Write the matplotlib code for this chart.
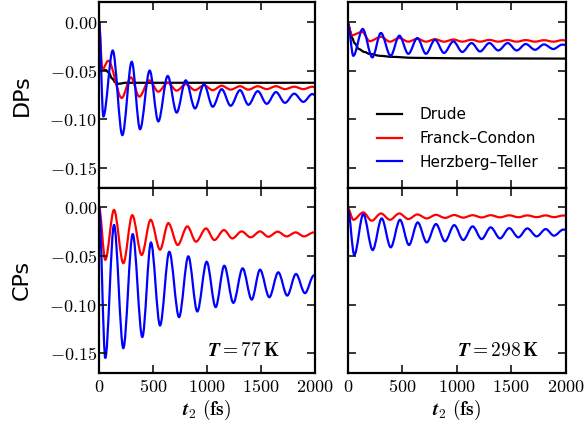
import matplotlib
matplotlib.use("Agg")
import matplotlib.pyplot as plt
from matplotlib.path import Path
from matplotlib.patches import PathPatch
from matplotlib.lines import Line2D
from matplotlib.ticker import FuncFormatter, MultipleLocator

plt.rcParams["mathtext.fontset"] = "cm"

# ---- data (times in fs, extrema of each trace) ----
# DPs, T = 77 K
t_dp77_drude = [0, 8, 15, 30, 60, 90, 120, 150, 180, 250, 2000]
v_dp77_drude = [0, -0.03, -0.046, -0.049, -0.0495, -0.052, -0.058, -0.062, -0.0635, -0.0625, -0.0625]

t_dp77_fc = [0, 31, 86, 210, 296, 373, 466, 549, 636, 719, 803, 889, 972, 1053,
             1136, 1219, 1306, 1383, 1470, 1553, 1639, 1722, 1808, 1892, 1975, 2000]
v_dp77_fc = [0, -0.0486, -0.040, -0.078, -0.057, -0.0767, -0.060, -0.0716, -0.0623, -0.0705,
             -0.064, -0.070, -0.065, -0.070, -0.0655, -0.0695, -0.066, -0.0695, -0.066, -0.069,
             -0.066, -0.069, -0.0665, -0.069, -0.0665, -0.067]

t_dp77_ht = [0, 40, 127, 216, 303, 380, 469, 549, 636, 719, 803, 889, 972, 1053,
             1136, 1219, 1306, 1383, 1470, 1553, 1639, 1722, 1808, 1892, 1975, 2000]
v_dp77_ht = [0, -0.097, -0.0295, -0.116, -0.041, -0.110, -0.050, -0.102, -0.0555, -0.093,
             -0.060, -0.0887, -0.064, -0.087, -0.069, -0.086, -0.070, -0.085, -0.071, -0.084,
             -0.072, -0.083, -0.0736, -0.082, -0.074, -0.075]

# DPs, T = 298 K
t_dp298_drude = [0, 10, 20, 40, 60, 100, 150, 200, 300, 400, 600, 1000, 2000]
v_dp298_drude = [-0.002, -0.006, -0.010, -0.017, -0.022, -0.028, -0.031, -0.033, -0.035,
                 -0.036, -0.037, -0.0375, -0.0378]

t_dp298_fc = [0, 34, 130, 200, 303, 385, 472, 555, 638, 717, 800, 883, 969, 1051,
              1137, 1214, 1300, 1382, 1468, 1551, 1634, 1720, 1802, 1888, 1970, 2000]
v_dp298_fc = [-0.002, -0.014, -0.0105, -0.020, -0.0155, -0.0205, -0.0168, -0.0205, -0.0175,
              -0.0205, -0.018, -0.0205, -0.0183, -0.0205, -0.0185, -0.0205, -0.0187, -0.0205,
              -0.0188, -0.0205, -0.0189, -0.0205, -0.019, -0.0205, -0.019, -0.0192]

t_dp298_ht = [0, 49, 135, 224, 303, 392, 472, 555, 638, 717, 800, 883, 969, 1051,
              1137, 1214, 1300, 1382, 1468, 1551, 1634, 1720, 1802, 1888, 1970, 2000]
v_dp298_ht = [-0.002, -0.035, -0.0075, -0.0366, -0.0116, -0.035, -0.0144, -0.033, -0.0168,
              -0.0329, -0.0185, -0.032, -0.0202, -0.031, -0.0219, -0.0305, -0.0219, -0.0295,
              -0.0219, -0.0295, -0.0229, -0.0288, -0.0233, -0.028, -0.0235, -0.0238]

# CPs, T = 77 K
t_cp77_fc = [0, 58, 139, 225, 308, 395, 478, 565, 642, 729, 818, 898, 991, 1068,
             1157, 1234, 1321, 1404, 1491, 1568, 1654, 1738, 1821, 1898, 1990, 2000]
v_cp77_fc = [0, -0.054, -0.0025, -0.0575, -0.0079, -0.049, -0.0127, -0.0435, -0.0161, -0.0387,
             -0.0195, -0.0353, -0.0216, -0.0336, -0.0233, -0.0319, -0.0247, -0.0308, -0.0247,
             -0.0302, -0.025, -0.0298, -0.0257, -0.0298, -0.0257, -0.0258]

t_cp77_ht = [0, 58, 139, 225, 312, 401, 481, 565, 651, 741, 827, 910, 997, 1080,
             1160, 1244, 1330, 1414, 1491, 1577, 1660, 1743, 1824, 1907, 1990, 2000]
v_cp77_ht = [0, -0.155, -0.018, -0.145, -0.0274, -0.1335, -0.036, -0.1216, -0.0456, -0.113,
             -0.0503, -0.1072, -0.0559, -0.1027, -0.060, -0.0983, -0.0627, -0.0949, -0.0641,
             -0.0925, -0.0668, -0.0908, -0.0685, -0.0883, -0.070, -0.0702]

# CPs, T = 298 K
t_cp298_fc = [0, 49, 141, 218, 303, 386, 472, 555, 638, 724, 809, 892, 977, 1060,
              1146, 1229, 1312, 1398, 1483, 1566, 1649, 1735, 1818, 1894, 1980, 2000]
v_cp298_fc = [-0.001, -0.0127, -0.0051, -0.0137, -0.0062, -0.0127, -0.0062, -0.012, -0.0072,
              -0.0113, -0.0076, -0.0108, -0.0078, -0.0105, -0.008, -0.0103, -0.008, -0.0102,
              -0.0081, -0.0101, -0.0082, -0.010, -0.0082, -0.010, -0.0083, -0.0085]

t_cp298_ht = [0, 58, 141, 227, 310, 393, 478, 561, 641, 724, 809, 892, 977, 1060,
              1146, 1229, 1312, 1398, 1483, 1566, 1649, 1735, 1818, 1894, 1980, 2000]
v_cp298_ht = [-0.002, -0.049, -0.0069, -0.0439, -0.0113, -0.0411, -0.0127, -0.0387, -0.0154,
              -0.036, -0.0171, -0.0349, -0.0182, -0.0336, -0.0195, -0.0326, -0.0205, -0.0319,
              -0.0213, -0.0308, -0.0216, -0.0298, -0.0223, -0.0291, -0.0228, -0.023]

series_names = ["Drude", "Franck\u2013Condon", "Herzberg\u2013Teller"]
series_colors = ["k", "r", "b"]
temperatures = ["77", "298"]
row_labels = ["DPs", "CPs"]


def smooth_path(t, v):
    # cubic segments between neighbouring extrema, flat at each extremum
    verts = [(t[0], v[0])]
    codes = [Path.MOVETO]
    for i in range(len(t) - 1):
        d = (t[i + 1] - t[i]) / 3.0
        verts += [(t[i] + d, v[i]), (t[i + 1] - d, v[i + 1]), (t[i + 1], v[i + 1])]
        codes += [Path.CURVE4] * 3
    return Path(verts, codes)


def draw_trace(ax, t, v, color):
    ax.add_patch(PathPatch(smooth_path(t, v), fill=False, edgecolor=color, lw=1.6,
                           capstyle="round", joinstyle="round"))


def bold_tick(val, pos, fmt):
    s = fmt.format(val)
    if s.startswith("-") and float(s) == 0:
        s = s[1:]
    return r"$\mathbf{" + s + "}$"


fig = plt.figure(figsize=(5.87, 4.21), dpi=100)
lefts = [0.1687, 0.5928]
width_l, width_r = 0.3679, 0.3706
bottoms = [0.5534, 0.1152]
heights = [0.4418, 0.4382]

axes = [[None, None], [None, None]]
for r in range(2):
    for c in range(2):
        kw = {}
        if r == 1:
            kw["sharex"] = axes[0][c]
        if c == 1:
            kw["sharey"] = axes[r][0]
        w = width_l if c == 0 else width_r
        axes[r][c] = fig.add_axes([lefts[c], bottoms[r], w, heights[r]], **kw)

traces = {
    (0, 0): [(t_dp77_drude, v_dp77_drude, "k"), (t_dp77_fc, v_dp77_fc, "r"), (t_dp77_ht, v_dp77_ht, "b")],
    (0, 1): [(t_dp298_drude, v_dp298_drude, "k"), (t_dp298_fc, v_dp298_fc, "r"), (t_dp298_ht, v_dp298_ht, "b")],
    (1, 0): [(t_cp77_fc, v_cp77_fc, "r"), (t_cp77_ht, v_cp77_ht, "b")],
    (1, 1): [(t_cp298_fc, v_cp298_fc, "r"), (t_cp298_ht, v_cp298_ht, "b")],
}

for r in range(2):
    for c in range(2):
        ax = axes[r][c]
        for t, v, col in traces[(r, c)]:
            draw_trace(ax, t, v, col)
        ax.set_xlim(0, 2000)
        ax.set_ylim(-0.17, 0.02)
        ax.xaxis.set_major_locator(MultipleLocator(500))
        ax.yaxis.set_major_locator(MultipleLocator(0.05))
        ax.xaxis.set_major_formatter(FuncFormatter(lambda x, p: bold_tick(x, p, "{:.0f}")))
        ax.yaxis.set_major_formatter(FuncFormatter(lambda y, p: bold_tick(y, p, "{:.2f}")))
        ax.tick_params(direction="in", length=6, width=1.1, top=True, right=True,
                       labelsize=13, labelbottom=(r == 1), labelleft=(c == 0))
        ax.tick_params(axis="y", pad=1.5)
        ax.tick_params(axis="x", pad=4)
        for sp in ax.spines.values():
            sp.set_linewidth(1.6)
        if c == 0:
            ax.set_ylabel(row_labels[r], fontsize=16)
            ax.yaxis.set_label_coords(-0.31, 0.5)
        if r == 1:
            ax.set_xlabel(r"$\boldsymbol{t}_\mathbf{2}\ \mathbf{(fs)}$", fontsize=14, labelpad=1)
            ax.text(0.5, 0.09, r"$\boldsymbol{T} = \mathbf{" + temperatures[c] + r"}\,\mathbf{K}$",
                    transform=ax.transAxes, ha="left", va="baseline", fontsize=14)

handles = [Line2D([], [], color=col, lw=1.6) for col in series_colors]
axes[0][1].legend(handles, series_names, loc="upper left", bbox_to_anchor=(0.133, 0.435),
                  frameon=False, fontsize=11, borderpad=0, borderaxespad=0,
                  handlelength=1.63, handletextpad=1.18, labelspacing=0.58)

fig.savefig("out.png", dpi=100)
